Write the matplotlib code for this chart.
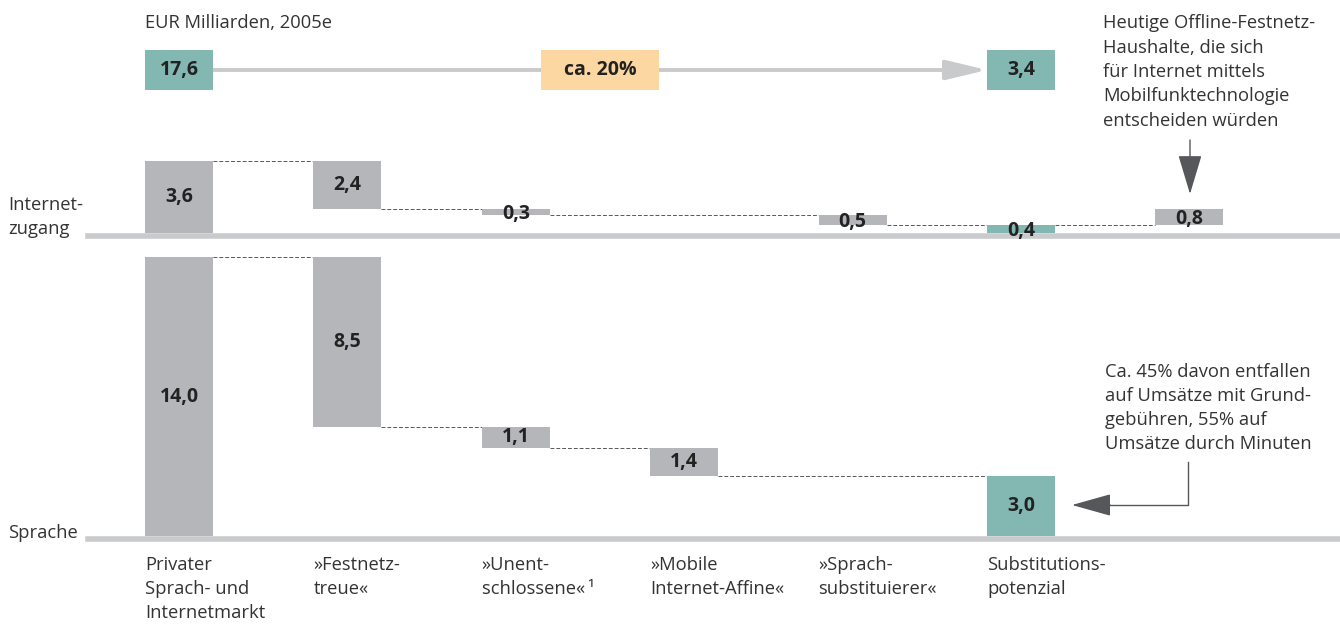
import matplotlib.pyplot as plt

plt.rcParams["font.family"] = ["Open Sans", "DejaVu Sans"]

# --- data -------------------------------------------------------------
categories = [
    "Privater\nSprach- und\nInternetmarkt",
    "»Festnetz-\ntreue«",
    "»Unent-\nschlossene«\u2009¹",
    "»Mobile\nInternet-Affine«",
    "»Sprach-\nsubstituierer«",
    "Substitutions-\npotenzial",
    "",
]
kinds = ["total", "minus", "minus", "minus", "minus", "result", "plus"]
internet = [3.6, 2.4, 0.3, 0.0, 0.5, 0.4, 0.8]
speech = [14.0, 8.5, 1.1, 1.4, 0.0, 3.0, 0.0]
row_labels = ["Internet-\nzugang", "Sprache"]
unit_label = "EUR Milliarden, 2005e"
share_label = "ca. 20%"
note_top = ("Heutige Offline-Festnetz-\nHaushalte, die sich\nfür Internet mittels\n"
            "Mobilfunktechnologie\nentscheiden würden")
note_bottom = ("Ca. 45% davon entfallen\nauf Umsätze mit Grund-\n"
               "gebühren, 55% auf\nUmsätze durch Minuten")

# --- style ------------------------------------------------------------
W, H = 1340, 624
TEAL = "#82b8b1"
GRAY = "#b5b6ba"
ORANGE = "#fdd7a2"
BASE = "#c9cacc"
DARK = "#55575a"
TEXT = "#333333"
VALUE = "#222222"
FS = 13.2
FS_VAL = 14

X0, STEP = 179, 168.4          # pixel centre of first column, column pitch
BAR_W = 68 / STEP
SCALE = 19.9                   # pixels per EUR bn
XLIM = (-X0 / STEP, (W - X0) / STEP)


def px_axes(fig, top, bottom):
    ax = fig.add_axes([0, 1 - bottom / H, 1, (bottom - top) / H])
    ax.set_xlim(*XLIM)
    ax.axis("off")
    return ax


def fmt(v):
    return f"{v:.1f}".replace(".", ",")


def draw_waterfall(ax, values):
    ax.axhline(-3 / SCALE, xmin=88 / W, xmax=1, color=BASE, lw=4, zorder=1)
    level = 0.0
    last_edge = None
    for i, (v, kind) in enumerate(zip(values, kinds)):
        if v == 0:
            continue
        if kind == "total":
            bottom = 0.0
            level = v
        elif kind == "minus":
            bottom = level - v
        elif kind == "result":
            bottom = 0.0
        else:
            bottom = level
        if last_edge is not None:
            ax.plot([last_edge, i - BAR_W / 2], [level, level], color=DARK,
                    lw=0.7, ls=(0, (4, 2)), zorder=2)
        if kind == "minus":
            level -= v
        elif kind == "plus":
            level += v
        ax.bar(i, v, bottom=bottom, width=BAR_W, color=TEAL if kind == "result" else GRAY,
               zorder=3)
        ax.text(i, bottom + v / 2 - (0.12 if v < 1 else 0), fmt(v), ha="center", va="center",
                fontsize=FS_VAL, fontweight="bold", color=VALUE, zorder=4)
        last_edge = i + BAR_W / 2


fig = plt.figure(figsize=(W / 100, H / 100), dpi=100)

# internet panel: zero at y=233 px
ax_top = px_axes(fig, 130, 250)
ax_top.set_ylim((233 - 250) / SCALE, (233 - 130) / SCALE)
draw_waterfall(ax_top, internet)

# speech panel: zero at y=536 px
ax_bot = px_axes(fig, 250, 560)
ax_bot.set_ylim((536 - 560) / SCALE, (536 - 250) / SCALE)
draw_waterfall(ax_bot, speech)

for i, label in enumerate(categories):
    ax_bot.text(i - BAR_W / 2, (536 - 556) / SCALE, label, ha="left", va="top",
                fontsize=FS, color=TEXT, linespacing=1.42)

# header row: market total -> substitution potential
ax_head = px_axes(fig, 50, 90)
ax_head.set_ylim(0, 1)
start_total = internet[0] + speech[0]
sub_total = internet[5] + speech[5]
ax_head.annotate("", xy=(5 - BAR_W / 2, 0.5), xytext=(BAR_W / 2, 0.5),
                 arrowprops=dict(arrowstyle="-|>,head_length=25,head_width=6",
                                 mutation_scale=1, lw=2.8, color=BASE,
                                 shrinkA=0, shrinkB=0), zorder=1)
for x, val in [(0, start_total), (5, sub_total)]:
    ax_head.bar(x, 1, width=BAR_W, color=TEAL, zorder=3)
    ax_head.text(x, 0.5, fmt(val), ha="center", va="center", fontsize=FS_VAL,
                 fontweight="bold", color=VALUE, zorder=4)
ax_head.bar(2.5, 1, width=118 / STEP, color=ORANGE, zorder=3)
ax_head.text(2.5, 0.5, share_label, ha="center", va="center", fontsize=FS_VAL,
             fontweight="bold", color=VALUE, zorder=4)

# overlay in pixel coordinates for notes and labels
ov = fig.add_axes([0, 0, 1, 1], zorder=5)
ov.set_xlim(0, W)
ov.set_ylim(H, 0)
ov.axis("off")
ov.patch.set_alpha(0)

ov.text(145, 23, unit_label, ha="left", va="center", fontsize=FS, color=TEXT)
ov.text(8, 217, row_labels[0], ha="left", va="center", fontsize=FS, color=TEXT,
        linespacing=1.42)
ov.text(8, 533, row_labels[1], ha="left", va="center", fontsize=FS, color=TEXT)

ov.text(1103, 72, note_top, ha="left", va="center", fontsize=FS, color=TEXT,
        linespacing=1.46)
ov.annotate("", xy=(1190, 194), xytext=(1190, 140),
            arrowprops=dict(arrowstyle="-|>,head_length=25,head_width=7.5",
                            mutation_scale=1, lw=1.0, color=DARK,
                            shrinkA=0, shrinkB=0))

ov.text(1105, 408, note_bottom, ha="left", va="center", fontsize=FS, color=TEXT,
        linespacing=1.43)
ov.plot([1188, 1188, 1100], [462, 505, 505], color=DARK, lw=1.0)
ov.annotate("", xy=(1072, 505), xytext=(1110, 505),
            arrowprops=dict(arrowstyle="-|>,head_length=25,head_width=7",
                            mutation_scale=1, lw=1.0, color=DARK,
                            shrinkA=0, shrinkB=0))

fig.savefig("out.png", dpi=100)
